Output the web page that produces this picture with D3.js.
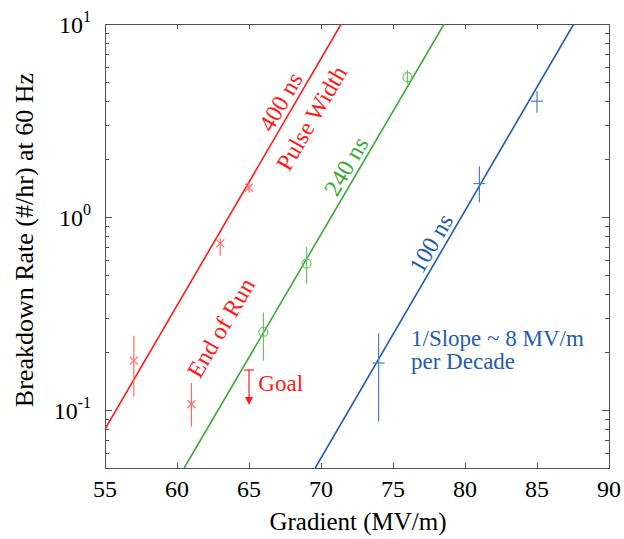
<!DOCTYPE html>
<html lang="en">
<head>
  <meta charset="UTF-8">
  <title>Breakdown Rate vs Gradient</title>
  <style>
    body { margin: 0; background: #fff; }
    svg { font-family: "Liberation Serif", "Times New Roman", serif; }
  </style>
</head>
<body>
<svg id="chart" width="624" height="539"></svg>
<script src="https://d3js.org/d3.v7.min.js"></script>
<script>
  // data
  const redGrad = [57, 61, 63, 65];
  const redRate = [0.18, 0.107, 0.73, 1.42];
  const redLo = [0.117, 0.082, 0.63, 1.34];
  const redHi = [0.242, 0.138, 0.78, 1.51];

  const greenGrad = [66, 69, 76];
  const greenRate = [0.254, 0.573, 5.3];
  const greenLo = [0.18, 0.45, 4.88];
  const greenHi = [0.32, 0.70, 5.77];

  const blueGrad = [74, 81, 85];
  const blueRate = [0.175, 1.49, 3.98];
  const blueLo = [0.087, 1.19, 3.47];
  const blueHi = [0.25, 1.83, 4.5];

  // fitted lines, endpoints [gradient, rate]
  const redFit = [[55, 0.0796], [71.4, 10]];
  const greenFit = [[60.5, 0.05], [78.55, 10]];
  const blueFit = [[69.6, 0.05], [87.55, 10]];

  const xTicks = [55, 60, 65, 70, 75, 80, 85, 90];
  const yMajor = [0.1, 1, 10];
  const yExp = ["-1", "0", "1"];

  const svg = d3.select("#chart"),
    width = +svg.attr("width"),
    height = +svg.attr("height"),
    margin = {top: 24, right: 15, bottom: 71, left: 105};

  const x = d3.scaleLinear().domain([55, 90]).range([margin.left, width - margin.right]);
  const y = d3.scaleLog().domain([0.05, 10]).range([height - margin.bottom, margin.top]);

  const RED = "#ff1a1a", GREEN = "#3aa935", BLUE = "#1f5db0";
  const RED_L = "#ff6b6b", GREEN_L = "#6cc468", BLUE_L = "#4a7fc6";
  const AX = "#505050";

  const x0 = x.range()[0], x1 = x.range()[1], y0 = y.range()[0], y1 = y.range()[1];

  // clip for fit lines
  svg.append("clipPath").attr("id", "plot")
    .append("rect").attr("x", x0).attr("y", y1).attr("width", x1 - x0).attr("height", y0 - y1);

  // ticks (inward, all four sides)
  const tk = svg.append("g").attr("stroke", AX).attr("stroke-width", 1);
  xTicks.forEach(function (v) {
    const px = Math.round(x(v)) + 0.5;
    tk.append("line").attr("x1", px).attr("x2", px).attr("y1", y0).attr("y2", y0 - 5);
    tk.append("line").attr("x1", px).attr("x2", px).attr("y1", y1).attr("y2", y1 + 5);
  });
  const yMinor = [];
  [0.01, 0.1, 1].forEach(function (d) {
    for (let k = 2; k <= 9; k++) {
      const v = d * k;
      if (v >= 0.05 && v <= 10) yMinor.push(v);
    }
  });
  yMinor.forEach(function (v) {
    const py = Math.round(y(v)) + 0.5;
    tk.append("line").attr("x1", x0).attr("x2", x0 + 4).attr("y1", py).attr("y2", py);
    tk.append("line").attr("x1", x1).attr("x2", x1 - 4).attr("y1", py).attr("y2", py);
  });
  yMajor.forEach(function (v) {
    const py = Math.round(y(v)) + 0.5;
    tk.append("line").attr("x1", x0).attr("x2", x0 + 7).attr("y1", py).attr("y2", py);
    tk.append("line").attr("x1", x1).attr("x2", x1 - 7).attr("y1", py).attr("y2", py);
  });

  // frame
  svg.append("rect")
    .attr("x", Math.round(x0) + 0.5).attr("y", Math.round(y1) + 0.5)
    .attr("width", Math.round(x1 - x0)).attr("height", Math.round(y0 - y1))
    .attr("fill", "none").attr("stroke", AX).attr("stroke-width", 1);

  // tick labels
  svg.append("g").selectAll("text").data(xTicks).join("text")
    .attr("x", function (d) { return x(d); })
    .attr("y", y0 + 29)
    .attr("text-anchor", "middle")
    .attr("font-size", 24)
    .text(function (d) { return d; });

  yMajor.forEach(function (v, i) {
    const t = svg.append("text")
      .attr("x", x0 - 14).attr("y", y(v) + 9)
      .attr("text-anchor", "end").attr("font-size", 24);
    t.append("tspan").text("10");
    t.append("tspan").attr("dy", -11).attr("font-size", 16).text(yExp[i]);
  });

  // axis titles
  svg.append("text")
    .attr("x", (x0 + x1) / 2 + 1).attr("y", height - 9)
    .attr("text-anchor", "middle").attr("font-size", 25)
    .text("Gradient (MV/m)");
  svg.append("text")
    .attr("transform", "translate(33," + ((y0 + y1) / 2 - 6) + ") rotate(-90)")
    .attr("text-anchor", "middle").attr("font-size", 26)
    .text("Breakdown Rate (#/hr) at 60 Hz");

  // fit lines
  const line = d3.line().x(function (d) { return x(d[0]); }).y(function (d) { return y(d[1]); });
  const plot = svg.append("g").attr("clip-path", "url(#plot)");
  [[redFit, RED], [greenFit, GREEN], [blueFit, BLUE]].forEach(function (f) {
    plot.append("path").attr("d", line(f[0])).attr("fill", "none")
      .attr("stroke", f[1]).attr("stroke-width", 1.6);
  });

  // error bars + markers
  function series(grad, rate, lo, hi, col, shape) {
    const g = svg.append("g").attr("stroke", col).attr("fill", "none").attr("stroke-width", 1.2);
    grad.forEach(function (gv, i) {
      const px = x(gv), py = y(rate[i]);
      g.append("line").attr("x1", px).attr("x2", px).attr("y1", y(lo[i])).attr("y2", y(hi[i]));
      if (shape === "x") {
        g.append("path").attr("d", "M" + (px - 4) + "," + (py - 4) + "L" + (px + 4) + "," + (py + 4) +
          "M" + (px - 4) + "," + (py + 4) + "L" + (px + 4) + "," + (py - 4));
      } else if (shape === "o") {
        g.append("circle").attr("cx", px).attr("cy", py).attr("r", 4.5);
      } else {
        g.append("path").attr("d", "M" + (px - 6) + "," + py + "L" + (px + 6) + "," + py);
      }
    });
  }
  series(redGrad, redRate, redLo, redHi, RED_L, "x");
  series(greenGrad, greenRate, greenLo, greenHi, GREEN_L, "o");
  series(blueGrad, blueRate, blueLo, blueHi, BLUE_L, "+");

  // angle of the fit lines on screen
  function angle(f) {
    const dx = x(f[1][0]) - x(f[0][0]), dy = y(f[1][1]) - y(f[0][1]);
    return Math.atan2(dy, dx) * 180 / Math.PI;
  }
  function slanted(gv, rv, txt, col, f) {
    svg.append("text")
      .attr("transform", "translate(" + x(gv) + "," + y(rv) + ") rotate(" + angle(f) + ")")
      .attr("text-anchor", "middle").attr("dominant-baseline", "central")
      .attr("font-size", 24).attr("fill", col).text(txt);
  }
  slanted(67.2, 3.95, "400 ns", RED, redFit);
  slanted(69.35, 3.25, "Pulse Width", RED, redFit);
  slanted(71.75, 1.83, "240 ns", GREEN, greenFit);
  slanted(77.65, 0.73, "100 ns", BLUE, blueFit);
  slanted(63.05, 0.266, "End of Run", RED, redFit);

  // goal marker
  const gx = x(65);
  const goal = svg.append("g").attr("stroke", RED).attr("stroke-width", 1.2);
  goal.append("line").attr("x1", gx - 5).attr("x2", gx + 5).attr("y1", y(0.161)).attr("y2", y(0.161));
  goal.append("line").attr("x1", gx).attr("x2", gx).attr("y1", y(0.161)).attr("y2", y(0.106) - 6);
  svg.append("path")
    .attr("d", "M" + (gx - 4) + "," + (y(0.106) - 8) + "L" + (gx + 4) + "," + (y(0.106) - 8) +
      "L" + gx + "," + y(0.106) + "Z")
    .attr("fill", RED);
  svg.append("text").attr("x", x(65.65)).attr("y", y(0.126))
    .attr("font-size", 23).attr("fill", RED).text("Goal");

  // slope note
  const note = svg.append("text").attr("x", x(76.25)).attr("y", y(0.215))
    .attr("font-size", 23).attr("fill", BLUE);
  note.append("tspan").text("1/Slope ~ 8 MV/m");
  note.append("tspan").attr("x", x(76.25)).attr("dy", 23).text("per Decade");
</script>
</body>
</html>
